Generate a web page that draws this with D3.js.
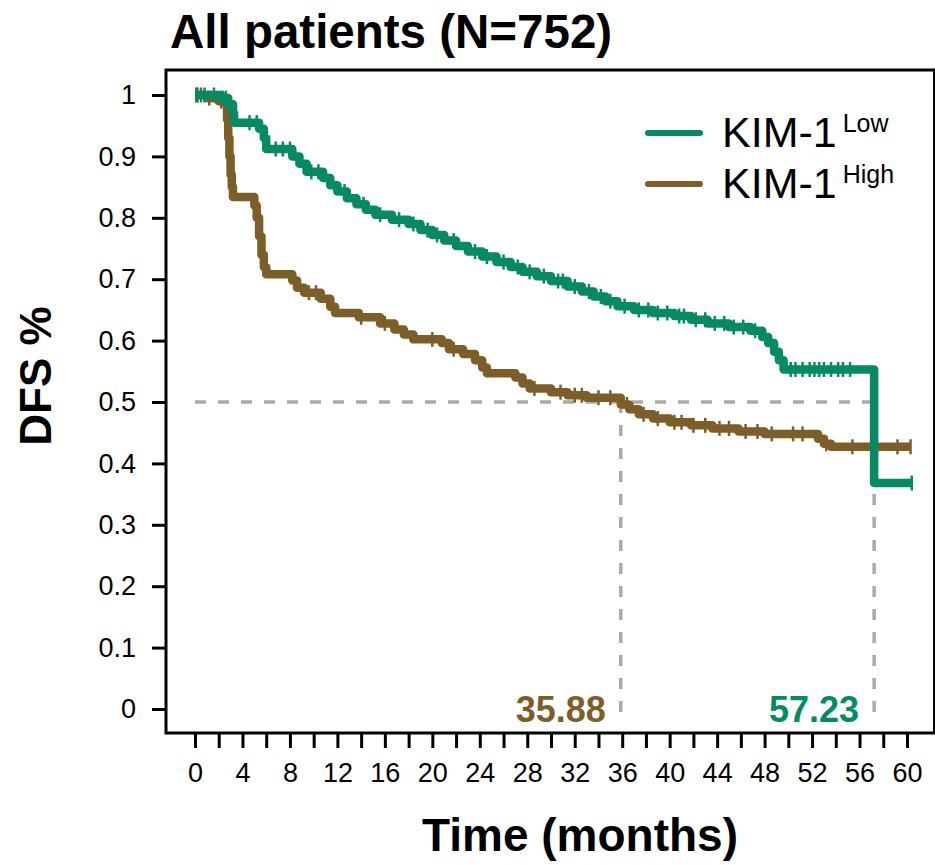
<!DOCTYPE html>
<html>
<head>
<meta charset="utf-8">
<script src="https://cdn.jsdelivr.net/npm/d3@7"></script>
<style>
  html, body { margin: 0; padding: 0; background: #fff; }
  svg { display: block; font-family: "Liberation Sans", Arial, Helvetica, sans-serif; }
</style>
</head>
<body>
<svg id="chart" width="935" height="865"></svg>
<script>
// Kaplan–Meier disease-free survival, KIM-1 low vs high
const titleText = "All patients (N=752)";
const groupNames = ["KIM-1", "KIM-1"];
const groupSup = ["Low", "High"];
const groupColors = ["#058a64", "#7d5e29"];

// Event steps: [time (months), survival after the step]
const lowSteps = [
  [0, 1.0], [2.2, 0.995], [2.8, 0.985], [3.2, 0.97], [3.3, 0.955],
  [5.4, 0.945], [5.8, 0.93], [6.0, 0.912], [8.2, 0.9], [8.8, 0.888],
  [9.4, 0.875], [10.8, 0.865], [11.4, 0.853], [12.0, 0.843], [12.8, 0.832],
  [13.6, 0.822], [14.4, 0.813], [15.2, 0.805], [16.6, 0.797], [18.0, 0.79],
  [19.0, 0.78], [20.0, 0.772], [21.0, 0.763], [22.0, 0.754], [23.0, 0.745],
  [24.2, 0.737], [25.4, 0.728], [26.6, 0.72], [27.6, 0.712], [28.8, 0.705],
  [30.0, 0.697], [31.4, 0.688], [32.6, 0.68], [33.6, 0.672], [34.6, 0.664],
  [35.6, 0.656], [37.0, 0.65], [38.6, 0.645], [40.4, 0.64], [41.8, 0.634],
  [43.2, 0.628], [45.0, 0.622], [46.8, 0.616], [47.8, 0.606], [48.3, 0.596],
  [48.8, 0.582], [49.2, 0.568], [49.6, 0.553], [57.23, 0.368]
];
const lowEnd = 60.4;
const lowCensored = [
  0.2, 0.8, 1.6, 2.3, 2.6, 4.6, 5.2, 6.8, 7.4, 8.0, 9.8, 10.4, 12.6, 14.2,
  15.6, 17.2, 18.4, 19.6, 20.4, 21.8, 23.6, 24.6, 26.0, 27.2, 28.2, 29.4,
  30.6, 31.0, 32.0, 33.2, 34.2, 35.0, 36.2, 37.4, 38.2, 39.0, 39.8, 40.8,
  41.2, 42.2, 43.0, 43.8, 44.6, 45.4, 46.2, 47.2, 50.2, 50.6, 51.2, 51.8,
  52.2, 52.6, 53.0, 53.6, 54.2, 54.6, 55.2, 60.4
];

const highSteps = [
  [0, 1.0], [1.0, 0.995], [2.0, 0.99], [2.6, 0.985], [2.7, 0.96],
  [2.8, 0.93], [2.9, 0.9], [3.0, 0.87], [3.1, 0.85], [3.2, 0.834],
  [5.0, 0.82], [5.2, 0.8], [5.4, 0.77], [5.6, 0.74], [5.8, 0.72],
  [6.0, 0.708], [8.2, 0.698], [8.6, 0.686], [9.2, 0.678], [10.6, 0.668],
  [11.4, 0.655], [11.8, 0.645], [13.8, 0.638], [15.6, 0.628], [16.8, 0.618],
  [17.6, 0.61], [18.4, 0.602], [20.8, 0.596], [21.4, 0.586], [22.6, 0.578],
  [23.6, 0.568], [24.2, 0.556], [24.6, 0.547], [27.0, 0.54], [27.6, 0.53],
  [28.2, 0.522], [30.0, 0.516], [31.4, 0.511], [33.0, 0.507], [35.88, 0.496],
  [36.6, 0.488], [37.4, 0.48], [38.6, 0.473], [40.0, 0.467], [41.8, 0.462],
  [43.6, 0.457], [45.8, 0.452], [48.0, 0.448], [52.5, 0.44], [53.0, 0.432],
  [53.6, 0.427]
];
const highEnd = 60.3;
const highCensored = [
  0.1, 0.5, 1.2, 2.2, 9.6, 10.2, 14.0, 16.0, 20.0, 21.8, 24.4, 28.6, 30.8,
  32.0, 32.6, 34.0, 35.0, 36.4, 37.8, 39.0, 40.4, 41.0, 42.0, 43.0, 44.2,
  45.0, 46.4, 47.4, 48.6, 50.4, 51.2, 53.2, 55.4, 59.2, 60.3
];

// Median survival times (where each curve crosses 0.5)
const medianLabels = ["35.88", "57.23"];
const medianTimes = [35.88, 57.23];
const medianColors = ["#7d5e29", "#058a64"];

const xTickValues = [0, 4, 8, 12, 16, 20, 24, 28, 32, 36, 40, 44, 48, 52, 56, 60];
const yTickValues = [0, 0.1, 0.2, 0.3, 0.4, 0.5, 0.6, 0.7, 0.8, 0.9, 1];

const svg = d3.select("#chart");

const x = d3.scaleLinear().domain([0, 60]).range([195, 907]);
const y = d3.scaleLinear().domain([0, 1]).range([709, 95]);

const frame = { left: 166, top: 70, right: 934.5, bottom: 733 };

// Plot frame
svg.append("rect")
  .attr("x", frame.left).attr("y", frame.top)
  .attr("width", frame.right - frame.left).attr("height", frame.bottom - frame.top)
  .attr("fill", "none").attr("stroke", "#000").attr("stroke-width", 3);

// Y axis
const yAxis = d3.axisLeft(y).tickValues(yTickValues)
  .tickSize(14).tickPadding(16)
  .tickFormat(d => d3.format("~g")(d));
const yG = svg.append("g").attr("transform", `translate(${frame.left},0)`).call(yAxis);
yG.select(".domain").remove();
yG.selectAll(".tick line").attr("stroke", "#000").attr("stroke-width", 3);
yG.selectAll(".tick text").attr("font-size", 27).attr("fill", "#000")
  .attr("font-family", "Liberation Sans, Arial, sans-serif");

// X axis: minor ticks every 2 months, labels every 4
const xMinor = d3.axisBottom(x).tickValues(d3.range(0, 61, 2)).tickSize(15).tickFormat("");
const xMinorG = svg.append("g").attr("transform", `translate(0,${frame.bottom})`).call(xMinor);
xMinorG.select(".domain").remove();
xMinorG.selectAll(".tick line").attr("stroke", "#000").attr("stroke-width", 3);

const xAxis = d3.axisBottom(x).tickValues(xTickValues).tickSize(0).tickPadding(30)
  .tickFormat(d3.format("d"));
const xG = svg.append("g").attr("transform", `translate(0,${frame.bottom})`).call(xAxis);
xG.select(".domain").remove();
xG.selectAll(".tick text").attr("font-size", 27).attr("fill", "#000")
  .attr("font-family", "Liberation Sans, Arial, sans-serif");

// Median reference lines
const dashStyle = g => g.attr("stroke", "#aaaaaa").attr("stroke-width", 3.5)
  .attr("stroke-dasharray", "11,12").attr("fill", "none");
svg.append("line")
  .attr("x1", x(0)).attr("x2", x(d3.max(medianTimes)))
  .attr("y1", y(0.5)).attr("y2", y(0.5)).call(dashStyle);
medianTimes.forEach(t => {
  svg.append("line")
    .attr("x1", x(t)).attr("x2", x(t))
    .attr("y1", y(0.5)).attr("y2", y(0) + 3).call(dashStyle);
});

// Survival curves
const line = d3.line().x(d => x(d[0])).y(d => y(d[1])).curve(d3.curveStepAfter);

function survivalAt(steps, t) {
  let s = steps[0][1];
  for (const [ti, si] of steps) { if (ti <= t) s = si; else break; }
  return s;
}

function drawCurve(steps, endT, censored, color) {
  const pts = steps.concat([[endT, steps[steps.length - 1][1]]]);
  svg.append("path").datum(pts)
    .attr("d", line)
    .attr("fill", "none").attr("stroke", color)
    .attr("stroke-width", 8.5).attr("stroke-linejoin", "round");
  svg.append("g").selectAll("line").data(censored).join("line")
    .attr("x1", d => x(d)).attr("x2", d => x(d))
    .attr("y1", d => y(survivalAt(steps, d)) - 7.5)
    .attr("y2", d => y(survivalAt(steps, d)) + 7.5)
    .attr("stroke", color).attr("stroke-width", 2.5);
}

drawCurve(highSteps, highEnd, highCensored, groupColors[1]);
drawCurve(lowSteps, lowEnd, lowCensored, groupColors[0]);

// Median value labels
medianTimes.forEach((t, i) => {
  svg.append("text")
    .attr("x", x(t) - 15).attr("y", 722)
    .attr("text-anchor", "end")
    .attr("font-size", 36).attr("font-weight", "bold")
    .attr("fill", medianColors[i])
    .text(medianLabels[i]);
});

// Legend
const legend = svg.append("g");
groupNames.forEach((name, i) => {
  const yy = 133 + i * 51;
  legend.append("line")
    .attr("x1", 648).attr("x2", 700).attr("y1", yy).attr("y2", yy)
    .attr("stroke", groupColors[i]).attr("stroke-width", 6)
    .attr("stroke-linecap", "round");
  const t = legend.append("text")
    .attr("x", 722).attr("y", yy + 14)
    .attr("font-size", 43).attr("fill", "#000");
  t.append("tspan").text(name);
  t.append("tspan").attr("dx", 6).attr("dy", -15).attr("font-size", 25).text(groupSup[i]);
});

// Titles
svg.append("text")
  .attr("x", 170).attr("y", 48)
  .attr("font-size", 47.5).attr("font-weight", "bold").attr("fill", "#000")
  .text(titleText);

svg.append("text")
  .attr("transform", `translate(51,376) rotate(-90)`)
  .attr("text-anchor", "middle")
  .attr("font-size", 44).attr("font-weight", "bold").attr("fill", "#000")
  .text("DFS %");

svg.append("text")
  .attr("x", 580).attr("y", 851)
  .attr("text-anchor", "middle")
  .attr("font-size", 46).attr("font-weight", "bold").attr("fill", "#000")
  .text("Time (months)");
</script>
</body>
</html>
